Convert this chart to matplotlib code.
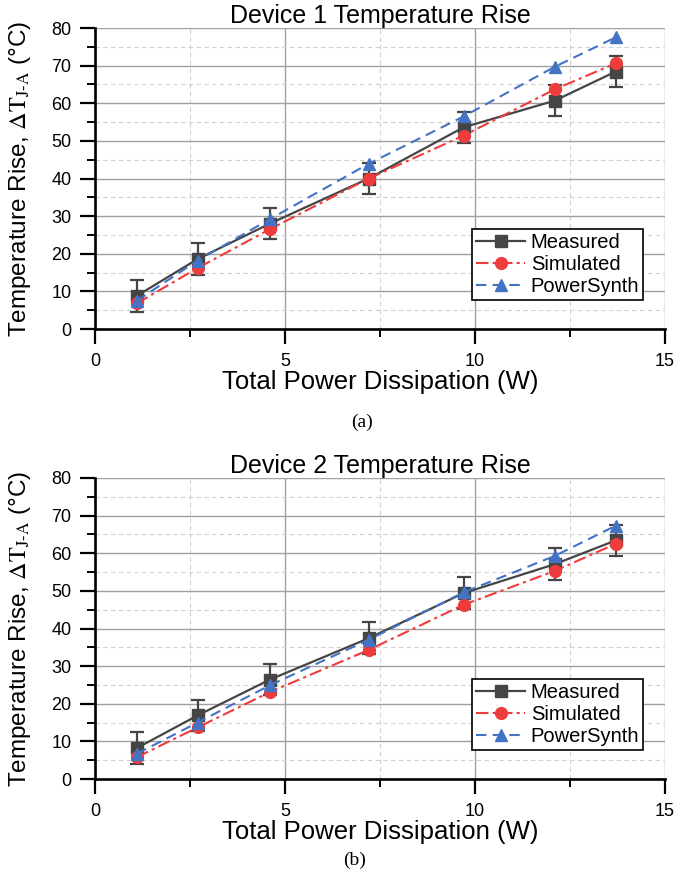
import matplotlib
matplotlib.use("Agg")
import matplotlib.pyplot as plt
import matplotlib.ticker as ticker

plt.rcParams["font.family"] = ["Liberation Sans", "DejaVu Sans"]
plt.rcParams["mathtext.fontset"] = "stix"

power = [1.1, 2.7, 4.6, 7.2, 9.7, 12.1, 13.7]

dev1_measured = [8.8, 18.6, 28.0, 40.0, 53.6, 60.7, 68.4]
dev1_simulated = [6.8, 16.2, 26.5, 40.0, 51.4, 63.7, 70.6]
dev1_powersynth = [7.5, 18.2, 29.2, 43.9, 56.5, 69.7, 77.5]

dev2_measured = [8.2, 16.9, 26.4, 37.4, 49.4, 57.1, 63.4]
dev2_simulated = [5.8, 13.7, 23.1, 34.3, 46.3, 55.3, 62.5]
dev2_powersynth = [6.7, 15.0, 24.9, 37.0, 49.6, 59.3, 67.3]

meas_err = 4.2

titles = ["Device 1 Temperature Rise", "Device 2 Temperature Rise"]
captions = ["(a)", "(b)"]

GRAY = "#454545"
RED = "#EE3B3B"
BLUE = "#4472C4"


def draw(ax, measured, simulated, powersynth, title):
    # error bars drawn separately so the legend shows plain line+marker
    ax.errorbar(power, measured, yerr=meas_err, fmt="none", ecolor=GRAY,
                capsize=5, capthick=1.6, elinewidth=1.6, zorder=3)
    h1, = ax.plot(power, measured, color=GRAY, lw=1.6, marker="s", ms=8,
                  label="Measured", zorder=3)
    h2, = ax.plot(power, simulated, color=RED, lw=1.5, ls=(0, (6, 2, 1.5, 2)),
                  marker="o", ms=8.5, label="Simulated", zorder=4)
    h3, = ax.plot(power, powersynth, color=BLUE, lw=1.5, ls=(0, (5, 3)),
                  marker="^", ms=9, label="PowerSynth", zorder=5)

    ax.set_xlim(0, 15)
    ax.set_ylim(0, 80)
    ax.xaxis.set_major_locator(ticker.MultipleLocator(5))
    ax.xaxis.set_minor_locator(ticker.MultipleLocator(2.5))
    ax.yaxis.set_major_locator(ticker.MultipleLocator(10))
    ax.yaxis.set_minor_locator(ticker.MultipleLocator(5))
    ax.grid(True, which="major", color="#a0a0a0", lw=1.0)
    ax.grid(True, which="minor", color="#d0d0d0", lw=0.8, ls=(0, (4, 3)))
    ax.set_axisbelow(True)

    for s in ["top", "right"]:
        ax.spines[s].set_visible(False)
    for s in ["left", "bottom"]:
        ax.spines[s].set_linewidth(1.9)
    ax.tick_params(which="major", direction="out", length=11, width=1.6,
                   labelsize=13, pad=6)
    ax.tick_params(which="minor", direction="out", length=6, width=1.4)

    ax.set_title(title, fontsize=18, pad=1)
    ax.set_xlabel("Total Power Dissipation (W)", fontsize=18.5)
    ax.xaxis.set_label_coords(0.5, -0.135)
    ax.set_ylabel(r"Temperature Rise, $\Delta\mathrm{T}_{\mathrm{J\text{-}A}}$ (°C)",
                  fontsize=17.5)
    ax.yaxis.set_label_coords(-0.108, 0.5)

    leg = ax.legend([h1, h2, h3], ["Measured", "Simulated", "PowerSynth"],
                    loc="lower right", bbox_to_anchor=(0.962, 0.096),
                    fontsize=14.5, frameon=True, fancybox=False,
                    borderpad=0.2, labelspacing=0.15, handlelength=2.4,
                    handletextpad=0.3, borderaxespad=0)
    leg.get_frame().set_edgecolor("black")
    leg.get_frame().set_linewidth(1.2)
    leg.get_frame().set_alpha(1)


fig = plt.figure(figsize=(6.92, 8.77), dpi=100)
ax1 = fig.add_axes([95 / 692, 1 - 329 / 877, 570 / 692, 301 / 877])
ax2 = fig.add_axes([95 / 692, 1 - 779 / 877, 570 / 692, 301 / 877])

draw(ax1, dev1_measured, dev1_simulated, dev1_powersynth, titles[0])
draw(ax2, dev2_measured, dev2_simulated, dev2_powersynth, titles[1])

fig.text(362 / 692, 1 - 422 / 877, captions[0], ha="center", va="center",
         fontsize=14, family="Liberation Serif")
fig.text(355 / 692, 1 - 860 / 877, captions[1], ha="center", va="center",
         fontsize=14, family="Liberation Serif")

fig.savefig("out.png", dpi=100)
